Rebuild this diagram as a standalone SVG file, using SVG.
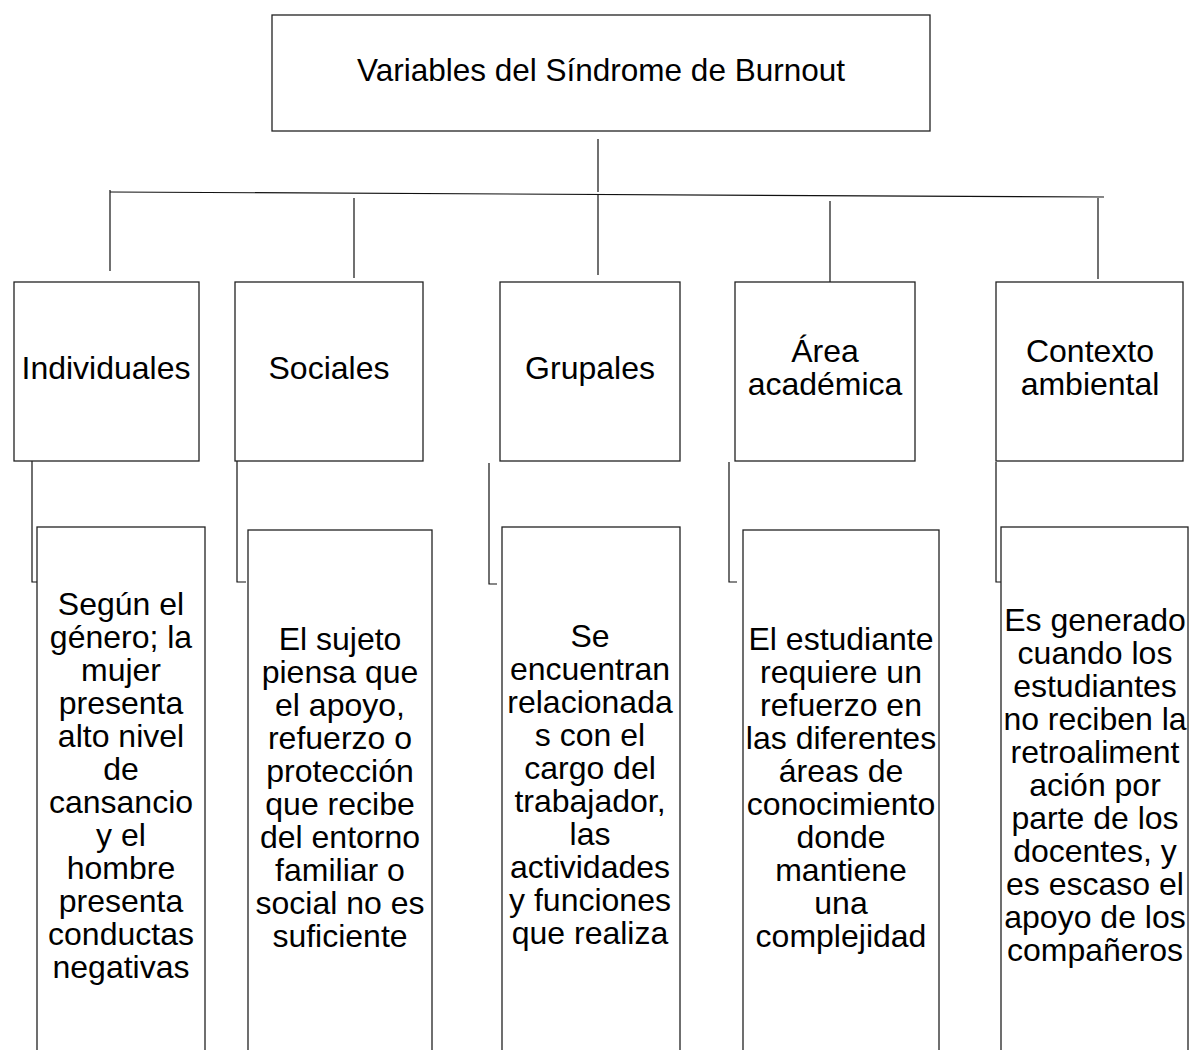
<svg xmlns="http://www.w3.org/2000/svg" width="1190" height="1050" viewBox="0 0 1190 1050">
<style>
.box{fill:#fff;stroke:#222;stroke-width:1.3}
.ln{fill:none;stroke:#111;stroke-width:1.2}
text{font-family:"Liberation Sans",Arial,sans-serif;font-size:32px;fill:#000;text-anchor:middle}
</style>
<rect width="1190" height="1050" fill="#fff"/>
<g id="connectors">
<line class="ln" x1="598" y1="139" x2="598" y2="192"/>
<line class="ln" x1="110" y1="192" x2="1104" y2="197"/>
<line class="ln" x1="110" y1="190" x2="110" y2="271"/>
<line class="ln" x1="354" y1="198" x2="354" y2="278"/>
<line class="ln" x1="598" y1="195" x2="598" y2="275"/>
<line class="ln" x1="830" y1="201" x2="830" y2="282"/>
<line class="ln" x1="1098" y1="198" x2="1098" y2="279"/>
<polyline class="ln" points="32,461 32,582 38,582"/>
<polyline class="ln" points="237,461 237,582 246,582"/>
<polyline class="ln" points="489,463 489,584 497,584"/>
<polyline class="ln" points="729,462 729,582 737,582"/>
<polyline class="ln" points="996,462 996,582 1004,582"/>
</g>
<g id="root">
<rect class="box" x="272" y="15" width="658" height="116"/>
<text x="601" y="81" style="font-size:31.5px">Variables del Síndrome de Burnout</text>
</g>
<g id="individuales">
<rect class="box" x="14" y="282" width="185" height="179"/>
<text x="106" y="379">Individuales</text>
</g>
<g id="sociales">
<rect class="box" x="235" y="282" width="188" height="179"/>
<text x="329" y="379">Sociales</text>
</g>
<g id="grupales">
<rect class="box" x="500" y="282" width="180" height="179"/>
<text x="590" y="379">Grupales</text>
</g>
<g id="area">
<rect class="box" x="735" y="282" width="180" height="179"/>
<text x="825" y="362">Área</text>
<text x="825" y="395">académica</text>
</g>
<g id="contexto">
<rect class="box" x="996" y="282" width="187" height="179"/>
<text x="1090" y="362">Contexto</text>
<text x="1090" y="395">ambiental</text>
</g>
<g id="detalle-individuales">
<rect class="box" x="37" y="527" width="168" height="540"/>
<text x="121" y="615">Según el</text>
<text x="121" y="648">género; la</text>
<text x="121" y="681">mujer</text>
<text x="121" y="714">presenta</text>
<text x="121" y="747">alto nivel</text>
<text x="121" y="780">de</text>
<text x="121" y="813">cansancio</text>
<text x="121" y="846">y el</text>
<text x="121" y="879">hombre</text>
<text x="121" y="912">presenta</text>
<text x="121" y="945">conductas</text>
<text x="121" y="978">negativas</text>
</g>
<g id="detalle-sociales">
<rect class="box" x="248" y="530" width="184" height="540"/>
<text x="340" y="650">El sujeto</text>
<text x="340" y="683">piensa que</text>
<text x="340" y="716">el apoyo,</text>
<text x="340" y="749">refuerzo o</text>
<text x="340" y="782">protección</text>
<text x="340" y="815">que recibe</text>
<text x="340" y="848">del entorno</text>
<text x="340" y="881">familiar o</text>
<text x="340" y="914">social no es</text>
<text x="340" y="947">suficiente</text>
</g>
<g id="detalle-grupales">
<rect class="box" x="502" y="527" width="178" height="540"/>
<text x="590" y="647">Se</text>
<text x="590" y="680">encuentran</text>
<text x="590" y="713">relacionada</text>
<text x="590" y="746">s con el</text>
<text x="590" y="779">cargo del</text>
<text x="590" y="812">trabajador,</text>
<text x="590" y="845">las</text>
<text x="590" y="878">actividades</text>
<text x="590" y="911">y funciones</text>
<text x="590" y="944">que realiza</text>
</g>
<g id="detalle-area">
<rect class="box" x="743" y="530" width="196" height="540"/>
<text x="841" y="650">El estudiante</text>
<text x="841" y="683">requiere un</text>
<text x="841" y="716">refuerzo en</text>
<text x="841" y="749">las diferentes</text>
<text x="841" y="782">áreas de</text>
<text x="841" y="815">conocimiento</text>
<text x="841" y="848">donde</text>
<text x="841" y="881">mantiene</text>
<text x="841" y="914">una</text>
<text x="841" y="947">complejidad</text>
</g>
<g id="detalle-contexto">
<rect class="box" x="1001" y="527" width="187" height="540"/>
<text x="1095" y="631">Es generado</text>
<text x="1095" y="664">cuando los</text>
<text x="1095" y="697">estudiantes</text>
<text x="1095" y="730">no reciben la</text>
<text x="1095" y="763">retroaliment</text>
<text x="1095" y="796">ación por</text>
<text x="1095" y="829">parte de los</text>
<text x="1095" y="862">docentes, y</text>
<text x="1095" y="895">es escaso el</text>
<text x="1095" y="928">apoyo de los</text>
<text x="1095" y="961">compañeros</text>
</g>
</svg>
